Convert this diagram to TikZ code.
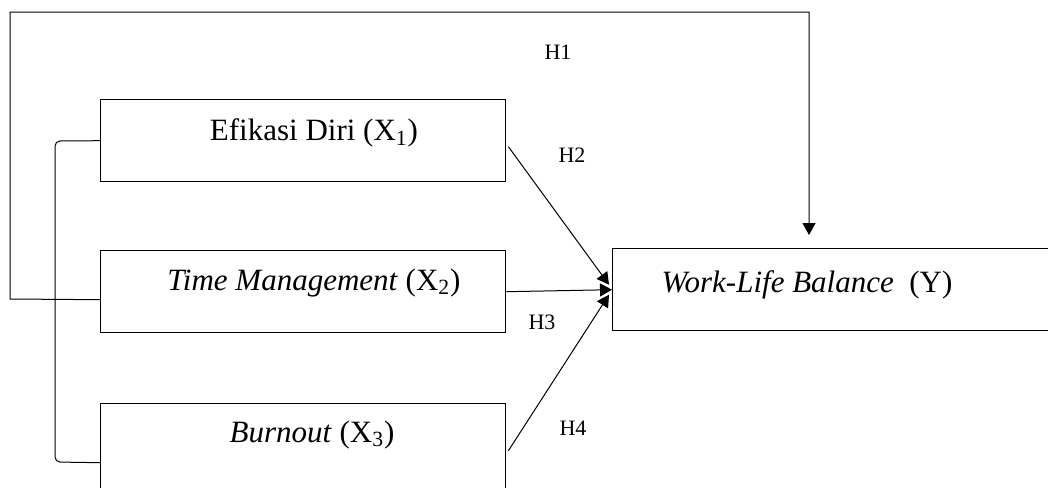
\documentclass[tikz,border=0pt]{standalone}
\usepackage{fontspec}
\setmainfont{Liberation Serif}[ItalicFont={Liberation Serif Italic},BoldFont={Liberation Serif Bold}]
\usetikzlibrary{arrows.meta,calc}
\begin{document}
\begin{tikzpicture}[x=0.5pt,y=-0.5pt,
  box/.style={draw,line width=0.7pt,minimum width=202.5pt,minimum height=41pt,inner sep=0pt,anchor=north west},
  lbl/.style={font=\fontsize{15.5}{18}\selectfont,inner sep=0pt},
  hyp/.style={font=\fontsize{11}{13}\selectfont,inner sep=0pt},
  conn/.style={line width=0.5pt},
  arr/.style={conn,-{Triangle[length=6pt,width=6.5pt]}}]
\useasboundingbox (0,0) rectangle (1048,487);
\clip (0,0) rectangle (1048,487);
% boxes
\node[box] (x1) at (100,99) {};
\node[box] (x2) at (100,250) {};
\node[box,minimum height=50pt] (x3) at (100,403) {};
\node[box,minimum width=270pt] (y) at (612,248) {};
% texts
\node[lbl] (t1) at (314,133) {Efikasi Diri (X\textsubscript{1})};
\node[lbl] (t2) at (314,283) {\textit{Time Management} (X\textsubscript{2})};
\node[lbl] (t3) at (312,435) {\textit{Burnout} (X\textsubscript{3})};
\node[lbl] (ty) at (807,285) {\textit{Work-Life Balance}\ \ (Y)};
% hypothesis labels
\node[hyp] (h1) at (558,52) {H1};
\node[hyp] (h2) at (572,155) {H2};
\node[hyp] (h3) at (542,322) {H3};
\node[hyp] (h4) at (573,428) {H4};
% H1 connector
\coordinate (c1) at (10,299);
\coordinate (c2) at (10,12);
\coordinate (c3) at (809,12);
\draw[arr] ($(x2.west)+(0,8)$) -- (c1) -- (c2) -- (c3) -- ($(y.north west)+(197,-13)$);
% bracket linking X1 and X3
\coordinate (b1) at (55,141);
\coordinate (b2) at (55,462);
\draw[conn,rounded corners=2.5pt] (x1.west) -- (b1) -- (b2) -- ($(x3.west)+(0,9)$);
% arrows to Y
\draw[arr] ($(x1.east)+(2,6)$) -- ($(y.west)+(-3,-5)$);
\draw[arr] (x2.east) -- (y.west);
\draw[arr] ($(x3.east)+(2,-3)$) -- ($(y.west)+(-3,5)$);
\end{tikzpicture}
\end{document}
